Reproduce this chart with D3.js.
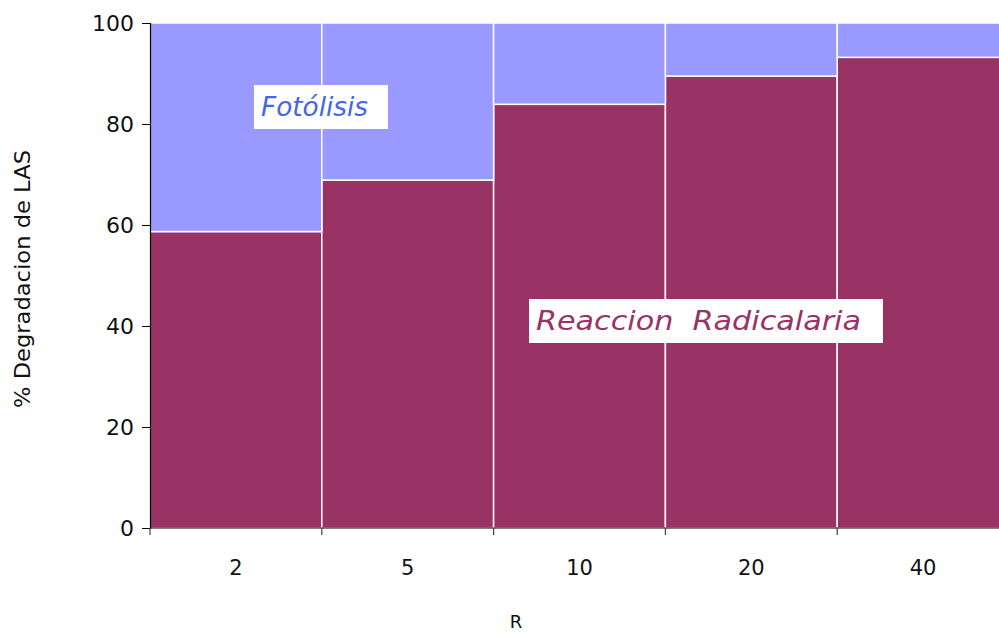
<!DOCTYPE html>
<html>
<head>
<meta charset="utf-8">
<script src="https://cdn.jsdelivr.net/npm/d3@7"></script>
<style>
  html, body { margin: 0; padding: 0; background: #fff; overflow: hidden; }
  svg { display: block; }
  text { font-family: "DejaVu Sans", sans-serif; }
</style>
</head>
<body>
<svg id="chart" width="999" height="633"></svg>
<script>
// Share of LAS degradation by mechanism for each R ratio
const categories = ["2", "5", "10", "20", "40"];
const radicalaria = [58.7, 68.9, 83.9, 89.5, 93.2];
const fotolisis = radicalaria.map(v => 100 - v);
const yTicks = [0, 20, 40, 60, 80, 100];

const svg = d3.select("#chart");
const margin = { left: 150, top: 23, bottom: 105 };
const plotW = 859, plotH = 633 - margin.top - margin.bottom;

const x = d3.scaleBand().domain(categories).range([0, plotW]).padding(0);
const y = d3.scaleLinear().domain([0, 100]).range([plotH, 0]);

const g = svg.append("g").attr("transform", `translate(${margin.left},${margin.top})`);

// Stacked 100% bars
const stackData = categories.map((c, i) => ({ cat: c, rad: radicalaria[i], fot: fotolisis[i] }));
const series = d3.stack().keys(["rad", "fot"])(stackData);
const colors = { rad: "#993366", fot: "#9999FF" };

g.selectAll("g.layer").data(series).join("g")
  .attr("class", "layer")
  .attr("fill", d => colors[d.key])
  .selectAll("rect").data(d => d).join("rect")
  .attr("x", d => x(d.data.cat))
  .attr("width", x.bandwidth())
  .attr("y", d => y(d[1]))
  .attr("height", d => y(d[0]) - y(d[1]))
  .attr("stroke", "#ffffff")
  .attr("stroke-width", 1.5);

// Y axis
const yAxis = g.append("g").call(d3.axisLeft(y).tickValues(yTicks).tickSize(8).tickPadding(8));
yAxis.select(".domain").attr("stroke", "#000").attr("stroke-width", 1.2);
yAxis.selectAll(".tick line").attr("stroke", "#000");
yAxis.selectAll("text").attr("font-size", 22).attr("fill", "#111");

// X axis with ticks at band boundaries
const xAxisG = g.append("g").attr("transform", `translate(0,${plotH})`);
xAxisG.append("line").attr("x1", 0).attr("x2", plotW).attr("stroke", "#000").attr("stroke-width", 1.2);
const bounds = categories.map(c => x(c)).concat([plotW]);
xAxisG.selectAll("line.tk").data(bounds).join("line")
  .attr("class", "tk")
  .attr("x1", d => d).attr("x2", d => d)
  .attr("y1", 0).attr("y2", 7)
  .attr("stroke", "#444").attr("stroke-width", 1.2);
xAxisG.selectAll("text.lbl").data(categories).join("text")
  .attr("class", "lbl")
  .attr("x", d => x(d) + x.bandwidth() / 2)
  .attr("y", 47)
  .attr("text-anchor", "middle")
  .attr("font-size", 21)
  .attr("fill", "#111")
  .text(d => d);

// Axis titles
svg.append("text")
  .attr("x", 516).attr("y", 628)
  .attr("text-anchor", "middle")
  .attr("font-size", 18).attr("fill", "#111")
  .text("R");
svg.append("text")
  .attr("transform", "translate(30,279) rotate(-90)")
  .attr("text-anchor", "middle")
  .attr("font-size", 21).attr("fill", "#111")
  .attr("textLength", 258).attr("lengthAdjust", "spacingAndGlyphs")
  .text("% Degradacion de LAS");

// Series labels on white boxes
function boxLabel(text, bx, by, bw, bh, color, len) {
  svg.append("rect").attr("x", bx).attr("y", by).attr("width", bw).attr("height", bh).attr("fill", "#fff");
  svg.append("text")
    .attr("x", bx + 7).attr("y", by + bh / 2 + 9)
    .attr("font-size", 26).attr("font-style", "italic")
    .attr("fill", color)
    .attr("xml:space", "preserve")
    .style("white-space", "pre")
    .attr("textLength", len).attr("lengthAdjust", "spacingAndGlyphs")
    .text(text);
}
boxLabel("Fotólisis", 254, 85, 134, 44, "#4466EE", 107);
boxLabel("Reaccion  Radicalaria", 529, 299, 354, 44, "#993366", 325);
</script>
</body>
</html>
